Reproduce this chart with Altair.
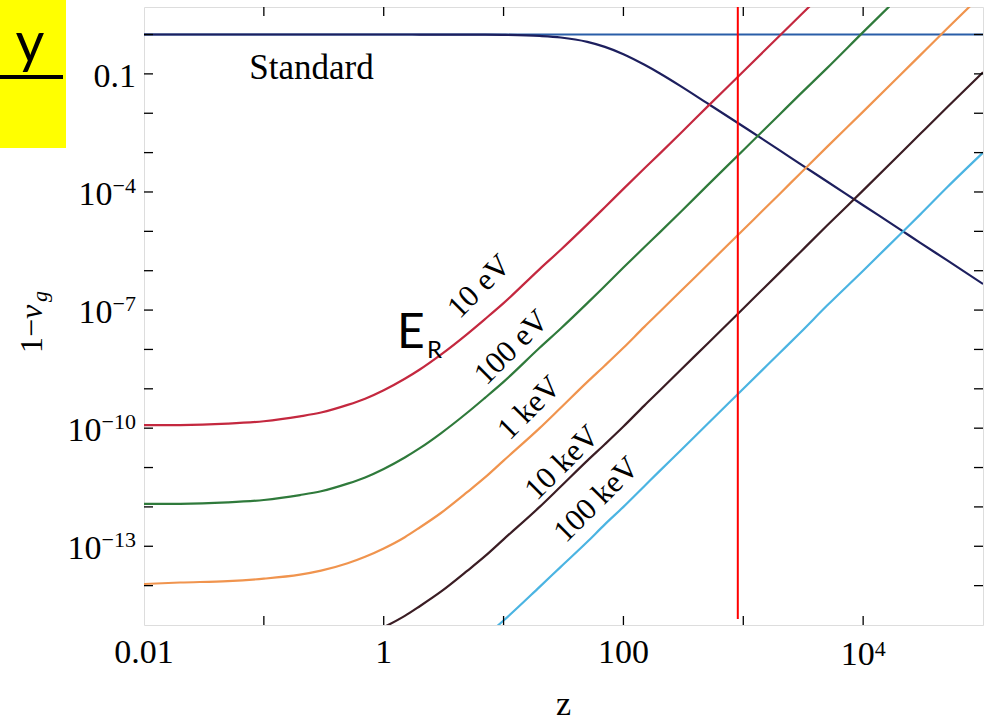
import altair as alt
import pandas as pd

# ---- data ----
z_grid = [0.01, 0.02, 0.05, 0.1, 0.2, 0.3, 0.5, 0.7, 1, 1.5, 2, 3, 5, 7, 10, 20, 30, 50, 70,
          100, 150, 200, 300, 500, 1000, 2000, 3000, 5000, 1e4, 2e4, 3e4, 5e4, 1e5]

standard = [1.0, 1.0, 1.0, 1.0, 1.0, 1.0, 1.0, 1.0, 1.0, 1.0, 0.999, 0.998, 0.995, 0.99, 0.979,
            0.92, 0.84, 0.65, 0.485, 0.316, 0.17, 0.104, 0.049, 0.018, 4.6e-3, 1.16e-3, 5.1e-4,
            1.85e-4, 4.6e-5, 1.16e-5, 5.1e-6, 1.85e-6, 4.6e-7]
e_10ev = [1.2e-10, 1.2e-10, 1.3e-10, 1.5e-10, 2.0e-10, 2.5e-10, 3.9e-10, 5.6e-10, 9.2e-10,
          1.8e-9, 3.1e-9, 7.4e-9, 2.5e-8, 5.9e-8, 1.5e-7, 1.1e-6, 3.4e-6, 1.5e-5, 4.1e-5,
          1.2e-4, 4.0e-4, 9.3e-4, 3.1e-3, 1.45e-2, 0.115, 0.92, 3.1, 14, 115, 920, 3100, 14000, 1.2e5]
e_100ev = [1.2e-12, 1.2e-12, 1.3e-12, 1.5e-12, 2.0e-12, 2.5e-12, 3.9e-12, 5.6e-12, 9.2e-12,
           1.8e-11, 3.1e-11, 7.4e-11, 2.5e-10, 5.9e-10, 1.5e-9, 1.1e-8, 3.4e-8, 1.5e-7, 4.1e-7,
           1.2e-6, 4.0e-6, 9.3e-6, 3.1e-5, 1.45e-4, 1.15e-3, 9.2e-3, 3.1e-2, 0.14, 1.15, 9.2, 31, 140, 1150]
e_1kev = [1.1e-14, 1.2e-14, 1.3e-14, 1.5e-14, 1.9e-14, 2.4e-14, 3.7e-14, 5.4e-14, 8.8e-14,
          1.7e-13, 3.0e-13, 7.0e-13, 2.4e-12, 5.6e-12, 1.5e-11, 1.0e-10, 3.3e-10, 1.5e-9, 3.9e-9,
          1.1e-8, 3.8e-8, 8.9e-8, 3.0e-7, 1.38e-6, 1.1e-5, 8.8e-5, 3.0e-4, 1.4e-3, 1.1e-2, 8.8e-2,
          0.30, 1.4, 11]
e_10kev = [1.1e-16, 1.2e-16, 1.3e-16, 1.5e-16, 1.9e-16, 2.4e-16, 3.7e-16, 5.4e-16, 8.8e-16,
           1.7e-15, 3.0e-15, 7.0e-15, 2.4e-14, 5.6e-14, 1.5e-13, 1.0e-12, 3.3e-12, 1.5e-11, 3.9e-11,
           1.1e-10, 3.8e-10, 8.9e-10, 3.0e-9, 1.38e-8, 1.1e-7, 8.8e-7, 3.0e-6, 1.4e-5, 1.1e-4,
           8.8e-4, 3.0e-3, 1.4e-2, 0.11]
e_100kev = [1.0e-18, 1.1e-18, 1.2e-18, 1.3e-18, 1.7e-18, 2.2e-18, 3.4e-18, 4.9e-18, 8.0e-18,
            1.6e-17, 2.7e-17, 6.4e-17, 2.2e-16, 5.1e-16, 1.3e-15, 9.3e-15, 3.0e-14, 1.3e-13, 3.6e-13,
            1.0e-12, 3.4e-12, 8.1e-12, 2.7e-11, 1.26e-10, 1.0e-9, 8.0e-9, 2.7e-8, 1.3e-7, 1.0e-6,
            8.0e-6, 2.7e-5, 1.3e-4, 1.0e-3]

series_names = ["Standard", "10 eV", "100 eV", "1 keV", "10 keV", "100 keV"]
series_values = [standard, e_10ev, e_100ev, e_1kev, e_10kev, e_100kev]
series_colors = ["#1d1f5e", "#c4283f", "#2f7a3b", "#f0944e", "#3b1d24", "#4bb4e2"]

# curve labels (text, z, value)
label_texts = ["10 eV", "100 eV", "1 keV", "10 keV", "100 keV"]
label_z = [6.3, 11.7, 16.5, 31, 60]
label_v = [3.9e-7, 1.1e-8, 3.2e-10, 1.3e-11, 1.5e-12]

standard_label_z = [0.25]
standard_label_v = [0.075]

redline_z = [900]
hline_v = [1.0]

x_tick_values = [0.01, 1, 100, 10000]
x_tick_bases = ["0.01", "1", "100", "10"]
x_tick_exps = ["", "", "", "4"]
y_tick_values = [0.1, 1e-4, 1e-7, 1e-10, 1e-13]
y_tick_bases = ["0.1", "10", "10", "10", "10"]
y_tick_exps = ["", "−4", "−7", "−10", "−13"]
x_minor = [0.1, 1, 10, 100, 1000, 10000]
y_minor = [1e-14, 1e-13, 1e-12, 1e-11, 1e-10, 1e-9, 1e-8, 1e-7, 1e-6, 1e-5, 1e-4, 1e-3, 1e-2, 0.1, 1]

W, H = 839, 618
XDOM = [0.01, 1e5]
YDOM = [1e-15, 5]
FONT = "Liberation Serif"
BASE_FS = 34
EXP_FS = 22


def text_width(s, fs):
    em = {"−": 0.564, ".": 0.25}
    return sum(em.get(c, 0.5) for c in s) * fs


rows = []
for name, vals in zip(series_names, series_values):
    for z, v in zip(z_grid, vals):
        rows.append({"series": name, "z": z, "v": v})
df = pd.DataFrame(rows)

xs = alt.Scale(type="log", domain=XDOM, nice=False)
ys = alt.Scale(type="log", domain=YDOM, nice=False)

layers = []

layers.append(alt.Chart(pd.DataFrame({"v": hline_v})).mark_rule(color="#2a5ea8", strokeWidth=2).encode(
    y=alt.Y("v:Q", scale=ys, axis=None), x=alt.value(0), x2=alt.value(W)))

layers.append(alt.Chart(df).mark_line(clip=True, strokeWidth=2.2, interpolate="monotone").encode(
    x=alt.X("z:Q", scale=xs, axis=None),
    y=alt.Y("v:Q", scale=ys, axis=None),
    color=alt.Color("series:N", scale=alt.Scale(domain=series_names, range=series_colors), legend=None),
    detail="series:N",
))

layers.append(alt.Chart(pd.DataFrame({"z": redline_z})).mark_rule(color="#ff0000", strokeWidth=2).encode(
    x=alt.X("z:Q", scale=xs), y=alt.value(0), y2=alt.value(H - 6)))

tick_len = 9
xt = pd.DataFrame({"z": x_minor})
yt = pd.DataFrame({"v": y_minor})
layers += [
    alt.Chart(xt).mark_rule(color="black", strokeWidth=1.3).encode(
        x=alt.X("z:Q", scale=xs), y=alt.value(H), y2=alt.value(H - tick_len)),
    alt.Chart(xt).mark_rule(color="black", strokeWidth=1.3).encode(
        x=alt.X("z:Q", scale=xs), y=alt.value(0), y2=alt.value(tick_len)),
    alt.Chart(yt).mark_rule(color="black", strokeWidth=1.3).encode(
        y=alt.Y("v:Q", scale=ys), x=alt.value(0), x2=alt.value(tick_len)),
    alt.Chart(yt).mark_rule(color="black", strokeWidth=1.3).encode(
        y=alt.Y("v:Q", scale=ys), x=alt.value(W), x2=alt.value(W - tick_len)),
]

# y tick labels (base + superscript exponent), right-aligned at x = -8
for v, b, e in zip(y_tick_values, y_tick_bases, y_tick_exps):
    d = pd.DataFrame({"v": [v], "b": [b], "e": [e]})
    expw = text_width(e, EXP_FS) if e else 0
    layers.append(alt.Chart(d).mark_text(
        font=FONT, fontSize=BASE_FS, align="right", baseline="alphabetic", dy=13, color="black"
    ).encode(y=alt.Y("v:Q", scale=ys), x=alt.value(-8 - expw), text="b:N"))
    if e:
        layers.append(alt.Chart(d).mark_text(
            font=FONT, fontSize=EXP_FS, align="left", baseline="alphabetic", dy=1, color="black"
        ).encode(y=alt.Y("v:Q", scale=ys), x=alt.value(-8 - expw), text="e:N"))

# x tick labels
for z, b, e in zip(x_tick_values, x_tick_bases, x_tick_exps):
    d = pd.DataFrame({"z": [z], "b": [b], "e": [e]})
    if e:
        bw = text_width(b, BASE_FS)
        ew = text_width(e, EXP_FS)
        off = (bw + ew) / 2 - ew
        layers.append(alt.Chart(d).mark_text(
            font=FONT, fontSize=BASE_FS, align="right", baseline="alphabetic", dx=off, color="black"
        ).encode(x=alt.X("z:Q", scale=xs), y=alt.value(658), text="b:N"))
        layers.append(alt.Chart(d).mark_text(
            font=FONT, fontSize=EXP_FS, align="left", baseline="alphabetic", dx=off, color="black"
        ).encode(x=alt.X("z:Q", scale=xs), y=alt.value(649), text="e:N"))
    else:
        layers.append(alt.Chart(d).mark_text(
            font=FONT, fontSize=BASE_FS, align="center", baseline="alphabetic", color="black"
        ).encode(x=alt.X("z:Q", scale=xs), y=alt.value(656), text="b:N"))

layers.append(alt.Chart(pd.DataFrame({"t": label_texts, "z": label_z, "v": label_v})).mark_text(
    font=FONT, fontSize=31, angle=315, align="center", baseline="middle", color="black"
).encode(x=alt.X("z:Q", scale=xs), y=alt.Y("v:Q", scale=ys), text="t:N"))

layers.append(alt.Chart(pd.DataFrame({"t": ["Standard"], "z": standard_label_z, "v": standard_label_v})).mark_text(
    font=FONT, fontSize=35, align="center", baseline="alphabetic", color="black"
).encode(x=alt.X("z:Q", scale=xs), y=alt.Y("v:Q", scale=ys), text="t:N"))

# E_R annotation
layers.append(alt.Chart(pd.DataFrame({"t": ["E"]})).mark_text(
    font="Lato", fontSize=48, align="left", baseline="alphabetic", color="black"
).encode(x=alt.value(253), y=alt.value(341), text="t:N"))
layers.append(alt.Chart(pd.DataFrame({"t": ["R"]})).mark_text(
    font="Lato", fontSize=24, align="left", baseline="alphabetic", color="black"
).encode(x=alt.value(283), y=alt.value(351), text="t:N"))

# yellow box with "y"
layers.append(alt.Chart(pd.DataFrame({"a": [0]})).mark_rect(color="#ffff00").encode(
    x=alt.value(-144), x2=alt.value(-78), y=alt.value(-7), y2=alt.value(141)))
layers.append(alt.Chart(pd.DataFrame({"a": [0]})).mark_rule(color="black", strokeWidth=4).encode(
    x=alt.value(-144), x2=alt.value(-81), y=alt.value(70)))
layers.append(alt.Chart(pd.DataFrame({"t": ["y"]})).mark_text(
    font="Lato", fontSize=56, align="center", baseline="alphabetic", color="black"
).encode(x=alt.value(-114), y=alt.value(55), text="t:N"))

# y-axis title 1 − v_g
layers.append(alt.Chart(pd.DataFrame({"t": ["1−"]})).mark_text(
    font=FONT, fontSize=32, angle=270, align="left", baseline="alphabetic", color="black"
).encode(x=alt.value(-102), y=alt.value(346), text="t:N"))
layers.append(alt.Chart(pd.DataFrame({"t": ["v"]})).mark_text(
    font=FONT, fontSize=32, fontStyle="italic", angle=270, align="left",
    baseline="alphabetic", color="black"
).encode(x=alt.value(-102), y=alt.value(312), text="t:N"))
layers.append(alt.Chart(pd.DataFrame({"t": ["g"]})).mark_text(
    font=FONT, fontSize=22, fontStyle="italic", angle=270, align="left",
    baseline="alphabetic", color="black"
).encode(x=alt.value(-97), y=alt.value(295), text="t:N"))

# x-axis title
layers.append(alt.Chart(pd.DataFrame({"t": ["z"]})).mark_text(
    font=FONT, fontSize=34, align="center", baseline="alphabetic", color="black"
).encode(x=alt.value(W / 2), y=alt.value(708), text="t:N"))

chart = alt.layer(*layers).properties(
    width=W, height=H,
    autosize=alt.AutoSizeParams(type="none"),
    padding={"left": 144, "top": 7, "right": 1, "bottom": 100},
    background="white",
).configure_view(stroke="black", strokeWidth=1.6).configure(font=FONT)

chart.save("out.html", embed_options={"renderer": "svg", "actions": False})
